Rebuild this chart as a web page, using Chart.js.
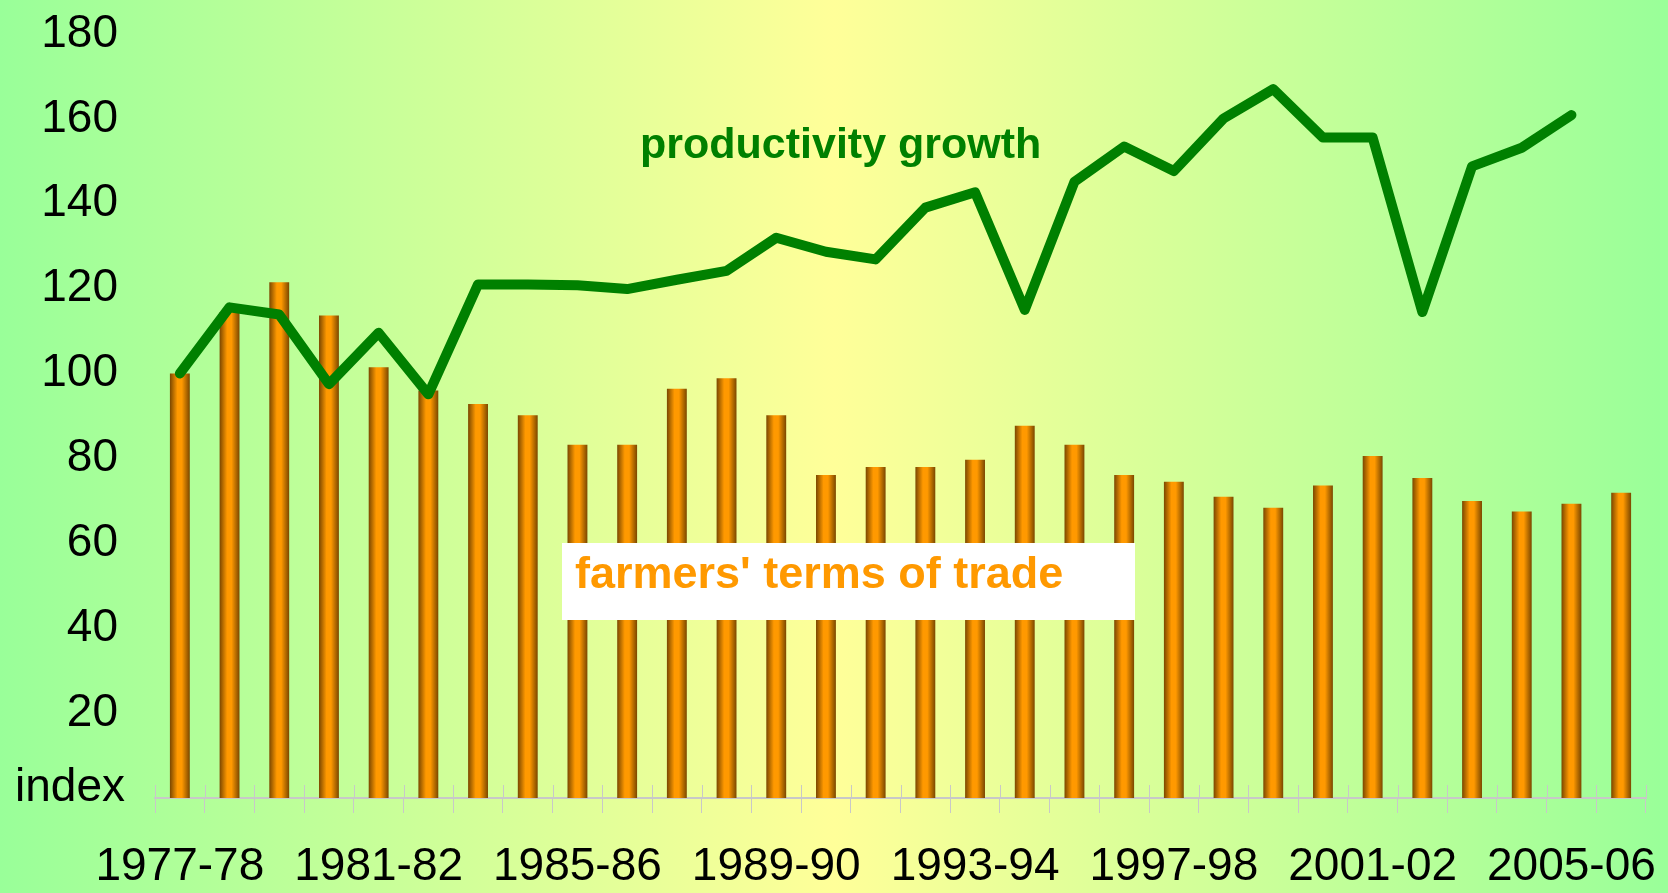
<!DOCTYPE html>
<html>
<head>
<meta charset="utf-8">
<script src="https://cdn.jsdelivr.net/npm/chart.js@4.4.0/dist/chart.umd.min.js"></script>
<style>
  html, body { margin: 0; padding: 0; }
  body {
    width: 1668px; height: 893px; overflow: hidden;
    background: linear-gradient(to right, #99ff99 0%, #ffff99 50%, #99ff99 100%);
  }
  canvas { display: block; }
</style>
</head>
<body>
<canvas id="chart" width="1668" height="893"></canvas>
<script>
// Financial years on the x axis
const years = [
  '1977-78', '1978-79', '1979-80', '1980-81', '1981-82', '1982-83', '1983-84', '1984-85',
  '1985-86', '1986-87', '1987-88', '1988-89', '1989-90', '1990-91', '1991-92', '1992-93',
  '1993-94', '1994-95', '1995-96', '1996-97', '1997-98', '1998-99', '1999-00', '2000-01',
  '2001-02', '2002-03', '2003-04', '2004-05', '2005-06', '2006-07'
];

// farmers' terms of trade (bars)
const termsOfTrade = [
  100, 114.5, 121.5, 113.7, 101.5, 96, 92.8, 90.2, 83.2, 83.2,
  96.4, 98.9, 90.2, 76.1, 78, 78, 79.7, 87.7, 83.2, 76.1,
  74.5, 71, 68.4, 73.6, 80.6, 75.4, 70, 67.5, 69.3, 71.9
];

// productivity growth (line), no value for the last year
const productivity = [
  100, 115.6, 113.9, 97.5, 109.6, 95.1, 121, 121, 120.8, 119.9,
  122.1, 124.2, 132, 128.7, 126.9, 139.1, 142.7, 115, 145.2, 153.5,
  147.7, 160.1, 167, 155.6, 155.6, 114.5, 148.8, 153.2, 160.9
];

const yTicks = [0, 20, 40, 60, 80, 100, 120, 140, 160, 180];
const labelEvery = 4;

const FONT = '"Liberation Sans", Arial, sans-serif';

// cylinder look for each bar
function barFill(ctx) {
  const chart = ctx.chart;
  const x = chart.scales.x;
  if (!chart.chartArea || !x || ctx.dataIndex === undefined) return '#ff9900';
  const cx = x.getPixelForValue(ctx.dataIndex);
  const half = (x.width / years.length) * 0.4 / 2;
  const g = chart.ctx.createLinearGradient(cx - half, 0, cx + half, 0);
  g.addColorStop(0, '#7a4700');
  g.addColorStop(0.38, '#ff9900');
  g.addColorStop(0.6, '#ff9900');
  g.addColorStop(1, '#7a4700');
  return g;
}

// tick marks crossing the axis line, the "index" unit and the two captions
const extras = {
  id: 'extras',
  afterDatasetsDraw(chart) {
    const c = chart.ctx;
    const x = chart.scales.x;
    const bottom = chart.chartArea.bottom;
    c.save();
    c.strokeStyle = '#c8c8c8';
    c.lineWidth = 1;
    const step = x.width / years.length;
    for (let i = 0; i <= years.length; i++) {
      const px = Math.round(x.left + i * step) + 0.5;
      c.beginPath();
      c.moveTo(px, bottom - 13);
      c.lineTo(px, bottom);
      c.stroke();
    }

    // unit label sits a bit above the zero line
    c.fillStyle = '#000';
    c.font = '46px ' + FONT;
    c.textAlign = 'right';
    c.textBaseline = 'middle';
    c.fillText('index', 125, bottom - 10);

    c.textAlign = 'left';
    c.textBaseline = 'alphabetic';
    c.fillStyle = '#008000';
    c.font = 'bold 43px ' + FONT;
    c.fillText('productivity growth', 640, 158);

    c.fillStyle = '#ffffff';
    c.fillRect(562, 543, 573, 77);
    c.fillStyle = '#ff9900';
    c.font = 'bold 45px ' + FONT;
    c.fillText("farmers' terms of trade", 575, 588);
    c.restore();
  }
};

new Chart(document.getElementById('chart'), {
  type: 'bar',
  data: {
    labels: years,
    datasets: [
      {
        type: 'line',
        label: 'productivity growth',
        data: productivity,
        borderColor: '#008000',
        borderWidth: 10,
        borderJoinStyle: 'round',
        borderCapStyle: 'round',
        pointRadius: 0,
        tension: 0,
        fill: false,
        order: 0
      },
      {
        type: 'bar',
        label: "farmers' terms of trade",
        data: termsOfTrade,
        backgroundColor: barFill,
        borderWidth: 0,
        barPercentage: 0.4,
        categoryPercentage: 1,
        order: 1
      }
    ]
  },
  options: {
    responsive: false,
    animation: false,
    devicePixelRatio: 1,
    layout: { padding: { left: 8, right: 22, top: 0, bottom: 0 } },
    plugins: {
      legend: { display: false },
      tooltip: { enabled: false }
    },
    scales: {
      x: {
        offset: true,
        afterFit: (s) => { s.height = 95; s.paddingLeft = 0; s.paddingRight = 0; },
        grid: {
          offset: true,
          drawOnChartArea: false,
          drawTicks: true,
          tickLength: 15,
          color: '#c8c8c8'
        },
        border: { display: true, color: '#c8c8c8', width: 2 },
        ticks: {
          autoSkip: false,
          maxRotation: 0,
          padding: 27,
          color: '#000',
          font: { family: FONT, size: 46 },
          callback: (v, i) => (i % labelEvery === 0 ? years[i] : '')
        }
      },
      y: {
        min: yTicks[0],
        max: yTicks[yTicks.length - 1],
        afterBuildTicks: (s) => { s.ticks = yTicks.map(v => ({ value: v })); },
        afterFit: (s) => { s.width = 147; s.paddingTop = 34; s.paddingBottom = 0; },
        grid: { display: false, drawTicks: false },
        border: { display: false },
        ticks: {
          padding: 37,
          color: '#000',
          font: { family: FONT, size: 46 },
          callback: (v) => (v === 0 ? '' : v)
        }
      }
    }
  },
  plugins: [extras]
});
</script>
</body>
</html>
